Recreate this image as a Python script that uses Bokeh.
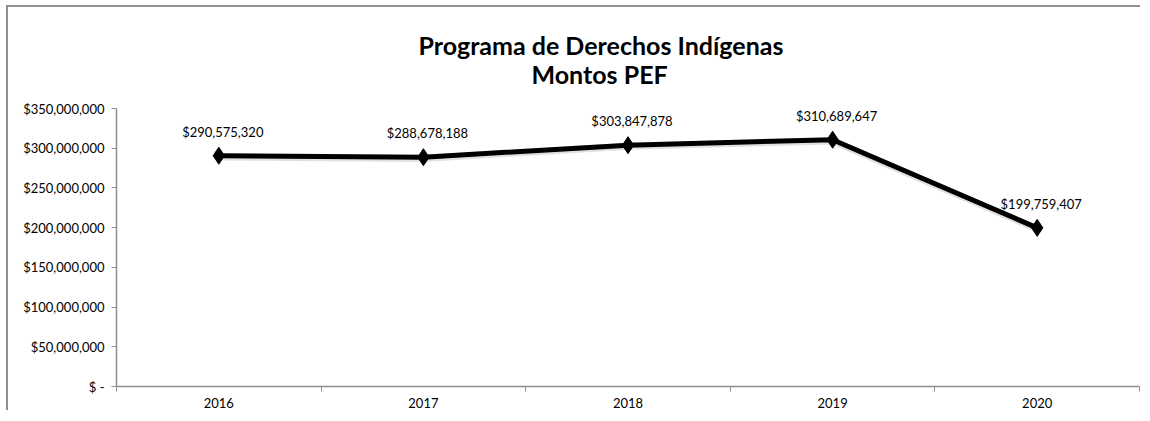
from bokeh.plotting import figure
from bokeh.models import ColumnDataSource, FixedTicker, Range1d, Title, LabelSet
from bokeh.core.properties import value
from bokeh.embed import file_html
from bokeh.resources import INLINE

years = ["2016", "2017", "2018", "2019", "2020"]
amounts = [290575320, 288678188, 303847878, 310689647, 199759407]
amount_labels = ["$290,575,320", "$288,678,188", "$303,847,878", "$310,689,647", "$199,759,407"]
y_ticks = [0, 50000000, 100000000, 150000000, 200000000, 250000000, 300000000, 350000000]
y_tick_labels = ["$ -", "$50,000,000", "$100,000,000", "$150,000,000", "$200,000,000",
                 "$250,000,000", "$300,000,000", "$350,000,000"]
title_line1 = "Programa de Derechos Indígenas"
title_line2 = "Montos PEF"

FONT = "Lato"
Y_MAX = 350000000
xs = [i + 0.5 for i in range(len(years))]
src = ColumnDataSource(dict(x=xs, y=amounts, lab=amount_labels))

p = figure(width=1134, height=405, output_backend="svg", toolbar_location=None,
           x_range=Range1d(0, len(years)), y_range=Range1d(0, Y_MAX),
           min_border_left=108, min_border_right=3, min_border_bottom=26, min_border_top=101)
p.styles = {"box-shadow": "-2px -2px 0 0 #8f8f8f", "margin-left": "8px", "margin-top": "7px"}
p.outline_line_color = None
p.background_fill_color = "white"
p.border_fill_color = "white"
p.grid.visible = False

title_style = dict(align="left", text_font=FONT, text_font_size="25px",
                   text_font_style="bold", text_color="black")
p.add_layout(Title(text=title_line2, offset=415, standoff=40, **title_style), "above")
try:
    t1 = Title(text=title_line1, offset=302, standoff=-46, **title_style)
except ValueError:
    t1 = Title(text=title_line1, offset=302, standoff=0, **title_style)
p.add_layout(t1, "above")

# shadow
p.line(xs, [a - 1500000 for a in amounts], line_color="#000000", line_alpha=0.12, line_width=7)
p.line("x", "y", source=src, line_color="black", line_width=5)
p.scatter("x", "y", source=src, marker="diamond", size=17, color="black")

labels = LabelSet(x="x", y="y", text="lab", source=src, x_offset=4, y_offset=16,
                  text_align="center", text_baseline="bottom", text_font=value(FONT),
                  text_font_size="13px", text_color="black")
p.add_layout(labels)

ax = p.xaxis[0]
ax.ticker = FixedTicker(ticks=xs, minor_ticks=list(range(len(years) + 1)))
ax.major_label_overrides = {x: y for x, y in zip(xs, years)}
ax.major_tick_line_color = None
ax.minor_tick_line_color = "#8f8f8f"
ax.minor_tick_out = 5
ax.minor_tick_in = 0
ax.axis_line_color = "#8f8f8f"
ax.axis_line_width = 1.5
ax.major_label_text_font = FONT
ax.major_label_text_font_size = "13px"
ax.major_label_text_color = "black"
ax.major_label_standoff = 5

ay = p.yaxis[0]
ay.ticker = FixedTicker(ticks=y_ticks)
ay.major_label_overrides = {t: l for t, l in zip(y_ticks, y_tick_labels)}
ay.minor_tick_line_color = None
ay.major_tick_line_color = "#8f8f8f"
ay.major_tick_out = 5
ay.major_tick_in = 0
ay.axis_line_color = "#8f8f8f"
ay.axis_line_width = 1.5
ay.major_label_text_font = FONT
ay.major_label_text_font_size = "13px"
ay.major_label_text_color = "black"
ay.major_label_standoff = 7

open("out.html", "w").write(file_html(p, INLINE))
